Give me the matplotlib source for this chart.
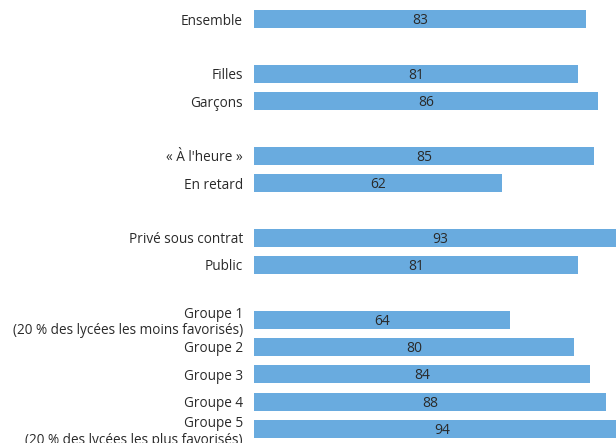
import matplotlib
matplotlib.use("Agg")
import matplotlib.pyplot as plt

labels = ["Ensemble", "Filles", "Garçons", "« À l'heure »", "En retard",
          "Privé sous contrat", "Public",
          "Groupe 1\n(20 % des lycées les moins favorisés)", "Groupe 2",
          "Groupe 3", "Groupe 4",
          "Groupe 5\n(20 % des lycées les plus favorisés)"]
values = [83, 81, 86, 85, 62, 93, 81, 64, 80, 84, 88, 94]
slots = [0, 2, 3, 5, 6, 8, 9, 11, 12, 13, 14, 15]

plt.rcParams['font.family'] = ['Open Sans', 'DejaVu Sans']
W, H = 616, 443
fig = plt.figure(figsize=(W / 100, H / 100), dpi=100)
ax = fig.add_axes([254 / W, 0, 400 / W, 1])

ax.barh(slots, values, height=0.66, color='#69abdf', edgecolor='none')
for s, v in zip(slots, values):
    ax.text(v / 2, s + 0.05, f"{v}", ha='center', va='center', fontsize=10, color='#2a2a2a')

ax.set_xlim(0, 100)
ax.set_ylim(15 + 14 / 27.33, -19 / 27.33)
ax.set_yticks(slots)
ax.set_yticklabels(labels, fontsize=9.8, color='#2a2a2a', multialignment='right',
                   linespacing=1.15)
ax.tick_params(axis='y', length=0, pad=8)
ax.set_xticks([])
for sp in ax.spines.values():
    sp.set_visible(False)

fig.savefig("out.png", dpi=100)
